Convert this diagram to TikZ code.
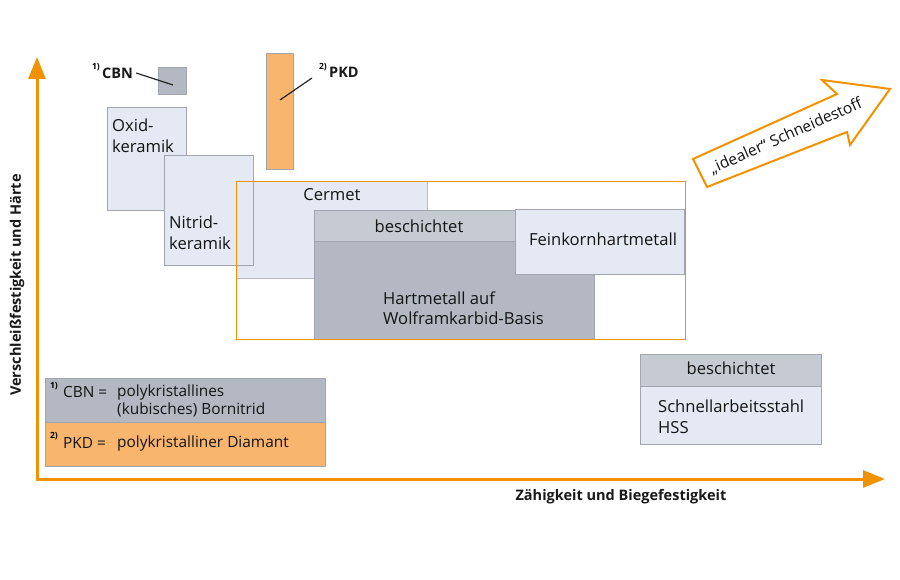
\documentclass[tikz,border=0pt]{standalone}
\usepackage{fontspec}
\setmainfont{Open Sans}
\usetikzlibrary{arrows.meta}
\definecolor{axisorange}{RGB}{242,146,0}
\definecolor{pkdorange}{RGB}{247,181,110}
\definecolor{hmgray}{RGB}{180,184,194}
\definecolor{coatgray}{RGB}{198,202,211}
\definecolor{paleblue}{RGB}{229,233,243}
\definecolor{edgegray}{RGB}{160,165,176}
\begin{document}
\begin{tikzpicture}[x=1pt, y=-1pt,
    box/.style={draw=edgegray, line width=0.8pt, anchor=north west, inner sep=0pt},
    pale/.style={box, fill=paleblue},
    txt/.style={font=\fontsize{16.6}{20.5}\selectfont, inner sep=0pt, align=left, text=black!92},
    legtxt/.style={txt, font=\fontsize{15.4}{18}\selectfont},
    sup/.style={font=\fontsize{8.5}{9}\selectfont\bfseries, inner sep=0pt},
    bold/.style={font=\fontsize{14.5}{17}\selectfont\bfseries, inner sep=0pt, text=black!90},
    pointer/.style={black!85, line width=1.2pt},
    axis/.style={axisorange, line width=3pt, line join=miter}]
  \useasboundingbox (0,0) rectangle (900,580);
  % axes
  \coordinate (O) at (37,479);
  \coordinate (ytip) at (37,57);
  \coordinate (xtip) at (885,479);
  \draw[axis, {Triangle[length=22pt, width=17pt]}-{Triangle[length=22pt, width=17pt]}]
    (ytip) -- (O) -- (xtip);
  \node[bold, rotate=90] (ylab) at (17,285) {Verschleißfestigkeit und Härte};
  \node[bold] (xlab) at (621,497) {Zähigkeit und Biegefestigkeit};
  % hard materials on top
  \node[box, fill=hmgray, minimum width=28, minimum height=27] (cbn) at (158,67) {};
  \node[box, fill=pkdorange, minimum width=27, minimum height=116] (pkd) at (266,53) {};
  \node[sup] (cbnsup) at (96,67) {1)};
  \node[bold, anchor=west] (cbnlab) at (102,73) {CBN};
  \node[sup] (pkdsup) at (323,67) {2)};
  \node[bold, anchor=west] (pkdlab) at (329,72) {PKD};
  \coordinate (cbnpt) at (173,85);
  \coordinate (pkdpt) at (280,100);
  \draw[pointer] (cbnlab.east) ++(3,0) -- (cbnpt);
  \draw[pointer] (pkdlab.west) ++(-17,6) -- (pkdpt);
  % carbide field
  \node[box, draw=none, fill=white, minimum width=449, minimum height=158] (field) at (236,181) {};
  \node[pale, draw=coatgray!80!gray, minimum width=191, minimum height=97] (cermet) at (236,181) {};
  \node[pale, minimum width=79, minimum height=103] (oxid) at (107,107) {};
  \node[pale, minimum width=89, minimum height=110] (nitrid) at (164,155) {};
  \node[box, fill=hmgray, minimum width=280, minimum height=98] (hm) at (314,241) {};
  \node[box, fill=coatgray, minimum width=201, minimum height=31] (hmcoat) at (314,210) {};
  \node[pale, minimum width=169, minimum height=65] (fein) at (515,209) {};
  \draw[axisorange, line width=0.8pt] (field.north west) rectangle (field.south east);
  \node[txt, anchor=west] (oxidtxt) at (112,136) {Oxid-\\keramik};
  \node[txt, anchor=west] (nitridtxt) at (169,233) {Nitrid-\\keramik};
  \node[txt] (cermettxt) at (332,195) {Cermet};
  \node[txt] (hmcoattxt) at (419,226) {beschichtet};
  \node[txt, anchor=west] (hmtxt) at (383,308) {Hartmetall auf\\Wolframkarbid-Basis};
  \node[txt] (feintxt) at (603,239) {Feinkornhartmetall};
  % high speed steel
  \node[pale, minimum width=181, minimum height=58] (hss) at (640,386) {};
  \node[box, fill=coatgray, minimum width=181, minimum height=32] (hsscoat) at (640,354) {};
  \node[txt] (hsscoattxt) at (731,368) {beschichtet};
  \node[txt, anchor=west] (hsstxt) at (658,417) {Schnellarbeitsstahl\\HSS};
  % ideal cutting material
  \draw[axisorange, line width=2pt, fill=white, line join=miter]
    (707,187) -- (693,159) -- (837,94) -- (822,80) -- (890,89) -- (850,145) -- (847,132) -- cycle;
  \node[txt, font=\fontsize{15.6}{18}\selectfont, rotate=24] (ideal) at (786,136) {„idealer“ Schneidestoff};
  % legend
  \node[box, fill=hmgray, minimum width=280, minimum height=44] (legcbn) at (45,378) {};
  \node[box, fill=pkdorange, minimum width=280, minimum height=44] (legpkd) at (45,422) {};
  \node[sup] (legcbnsup) at (54,386) {1)};
  \node[legtxt, anchor=west] (legcbnkey) at (63,392) {CBN =};
  \node[legtxt, anchor=west] (legcbntxt) at (117,401) {polykristallines\\(kubisches) Bornitrid};
  \node[sup] (legpkdsup) at (54,436) {2)};
  \node[legtxt, anchor=west] (legpkdkey) at (63,443) {PKD =};
  \node[legtxt, anchor=west] (legpkdtxt) at (117,443) {polykristalliner Diamant};
\end{tikzpicture}
\end{document}
